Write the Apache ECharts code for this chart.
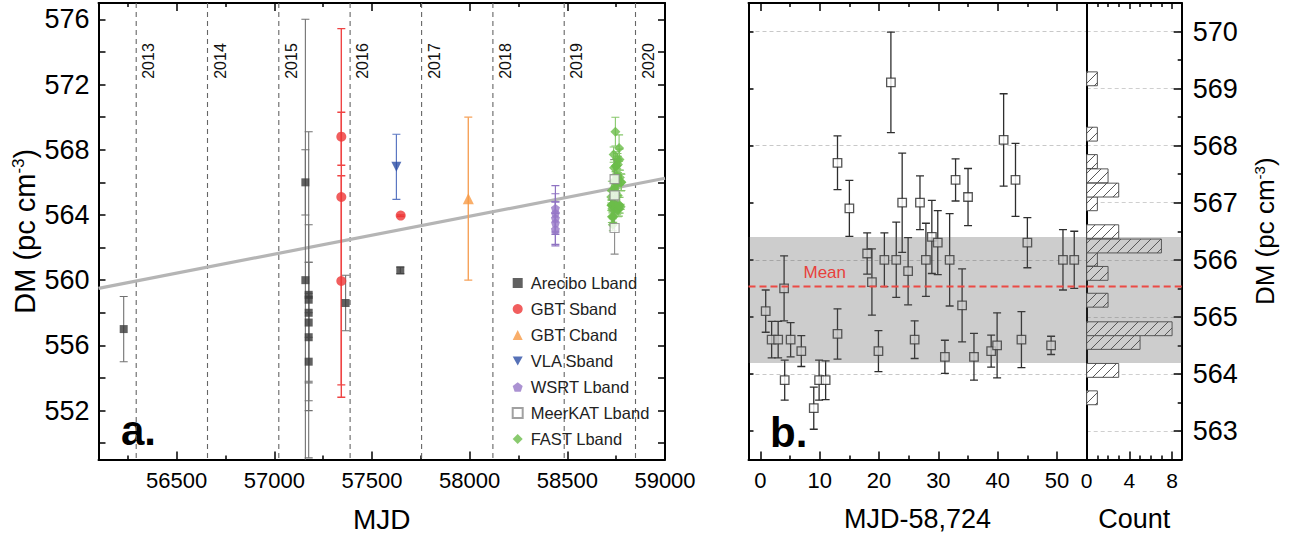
<!DOCTYPE html>
<html><head><meta charset="utf-8">
<script src="https://cdn.jsdelivr.net/npm/echarts@6/dist/echarts.min.js"></script>
<style>html,body{margin:0;padding:0;background:#fff}#c{width:1294px;height:539px}</style>
</head><body><div id="c"></div>
<script>
// ---------------- DATA ----------------
const yearMJD    = [56293, 56658, 57023, 57388, 57754, 58119, 58484, 58849];
const yearLabels = ['2013','2014','2015','2016','2017','2018','2019','2020'];

const trendMJD = [56100, 59000];
const trendDM  = [559.5, 566.25];

const areciboMJD = [56229, 57159, 57159, 57176, 57176, 57176, 57176, 57176, 57176, 57365, 57645];
const areciboDM  = [557.0, 566.0, 560.0, 559.1, 558.8, 558.0, 557.4, 556.5, 555.0, 558.6, 560.6];
const areciboErr = [2.0, 2.0, 16.0, 10.0, 2.3, 5.4, 3.7, 2.7, 3.0, 1.7, 0.2];

const gbtSMJD  = [57343, 57343, 57343, 57647];
const gbtSDM   = [568.8, 565.1, 559.95, 563.96];
const gbtSLow  = [567.05, 552.82, 553.58, 563.9];
const gbtSHigh = [570.3, 575.43, 566.4, 564.0];

const gbtCMJD = [57993];
const gbtCDM  = [565.0];
const gbtCErr = [5.0];

const vlaMJD = [57625];
const vlaDM  = [566.95];
const vlaErr = [2.0];

const wsrtMJD = [58439, 58439, 58439, 58439, 58439];
const wsrtDM  = [564.4, 564.1, 563.8, 563.5, 563.1];
const wsrtErr = [1.4, 1.2, 1.0, 1.3, 1.0];

const meerMJD = [58742, 58742, 58742];
const meerDM  = [566.2, 565.2, 563.2];
const meerErr = [1.2, 0.9, 1.6];

// FAST L-band (panel b), days after MJD 58724
const fastRefMJD = 58724;
const fastDay = [0.9, 1.9, 3.0, 4.0, 4.1, 5.1, 6.9, 9.0, 9.9, 11.0, 13.0, 13.0, 15.0, 18.0, 18.8, 19.9, 20.9, 22.0, 22.9, 23.9, 24.9, 26.0, 26.9, 27.9, 28.9, 29.9, 31.1, 31.9, 32.9, 34.0, 35.0, 36.0, 38.9, 39.9, 41.0, 43.0, 44.0, 45.0, 49.0, 51.0, 52.9];
const fastDM  = [565.10, 564.60, 564.60, 565.50, 563.89, 564.60, 564.40, 563.40, 563.89, 563.89, 567.70, 564.70, 566.90, 566.11, 565.61, 564.40, 566.00, 569.11, 566.00, 567.00, 565.80, 564.60, 567.00, 566.00, 566.40, 566.30, 564.30, 566.00, 567.40, 565.20, 567.10, 564.30, 564.40, 564.50, 568.10, 567.40, 564.60, 566.30, 564.50, 566.00, 566.00];
const fastErr = [0.37, 0.32, 0.32, 0.57, 0.35, 0.30, 0.27, 0.37, 0.35, 0.34, 0.47, 0.44, 0.49, 0.36, 0.58, 0.36, 0.47, 0.88, 0.66, 0.87, 0.59, 0.33, 0.47, 0.64, 0.64, 0.56, 0.29, 0.81, 0.37, 0.64, 0.50, 0.41, 0.28, 0.57, 0.81, 0.64, 0.49, 0.44, 0.16, 0.53, 0.50];

const meanDM   = 565.53;
const bandLow  = 564.19;
const bandHigh = 566.40;

// histogram (lower bin edges, counts)
const histBinWidth = 0.243;
const histLow    = [563.46, 563.70, 563.94, 564.19, 564.43, 564.67, 564.92, 565.17, 565.40, 565.64, 565.89, 566.12, 566.37, 566.61, 566.86, 567.10, 567.35, 567.60, 567.84, 568.08, 568.33, 568.57, 568.81, 569.05];
const histCounts = [1, 0, 3, 0, 5, 8, 0, 2, 0, 2, 1, 7, 3, 0, 1, 3, 2, 1, 0, 1, 0, 0, 0, 1];

// ---------------- CHART ----------------
const FONT = 'Liberation Sans, Arial, Helvetica, sans-serif';
const chart = echarts.init(document.getElementById('c'), null, {renderer: 'svg'});

const zip = (xs, ys) => xs.map((x, i) => [x, ys[i]]);

function errorBars(xs, lows, highs, color, width, capHalf, xi, yi, z) {
  return {
    type: 'custom', xAxisIndex: xi, yAxisIndex: yi, z: z, silent: true, clip: true,
    encode: {x: 0, y: [1, 2]},
    data: xs.map((x, i) => [x, lows[i], highs[i]]),
    renderItem: function (params, api) {
      const x = api.value(0);
      const lo = api.coord([x, api.value(1)]);
      const hi = api.coord([x, api.value(2)]);
      const st = {stroke: color, lineWidth: width, fill: null};
      return {type: 'group', children: [
        {type: 'line', shape: {x1: lo[0], y1: lo[1], x2: hi[0], y2: hi[1]}, style: st},
        {type: 'line', shape: {x1: lo[0] - capHalf, y1: lo[1], x2: lo[0] + capHalf, y2: lo[1]}, style: st},
        {type: 'line', shape: {x1: hi[0] - capHalf, y1: hi[1], x2: hi[0] + capHalf, y2: hi[1]}, style: st}
      ]};
    }
  };
}
const lowOf = (v, e) => v.map((d, i) => d - e[i]);
const highOf = (v, e) => v.map((d, i) => d + e[i]);

const fastMJD = fastDay.map(d => fastRefMJD + d);
const pentagon = 'path://M0,-1 L0.951,-0.309 L0.588,0.809 L-0.588,0.809 L-0.951,-0.309 Z';

function scatter(name, xs, ys, symbol, size, style, z) {
  return {type: 'scatter', name: name, xAxisIndex: 0, yAxisIndex: 0, z: z || 5, symbol: symbol, symbolSize: size,
          itemStyle: style, data: zip(xs, ys), silent: true};
}

const tickInside = (len, w) => ({show: true, inside: true, length: len, lineStyle: {color: '#000', width: w || 1.5}});
const minorInside = (n, len) => ({show: true, splitNumber: n, length: len, lineStyle: {color: '#000', width: 1.5}});
const blackLine = {show: true, onZero: false, lineStyle: {color: '#000', width: 2}};
const noLine = {show: false, onZero: false};
const plain = v => String(v);

const series = [];

// year lines (panel a)
series.push({
  type: 'custom', xAxisIndex: 0, yAxisIndex: 0, z: 1, silent: true,
  encode: {x: 0}, data: yearMJD.map(v => [v]),
  renderItem: function (params, api) {
    const cs = params.coordSys;
    const px = api.coord([api.value(0), 560])[0];
    return {type: 'group', children: [
      {type: 'line', shape: {x1: px, y1: cs.y, x2: px, y2: cs.y + cs.height},
       style: {stroke: '#666', lineWidth: 1.1, lineDash: [5, 4]}},
      {type: 'text', x: px + 12.5, y: cs.y + 58, rotation: Math.PI / 2,
       style: {text: yearLabels[params.dataIndex], fontSize: 16, fontFamily: FONT, fill: '#111',
               align: 'center', verticalAlign: 'middle'}}
    ]};
  }
});

// trend line
series.push({type: 'line', xAxisIndex: 0, yAxisIndex: 0, z: 2, silent: true, symbol: 'none',
  data: zip(trendMJD, trendDM), lineStyle: {color: '#b5b5b5', width: 3.2}});

// error bars panel a
series.push(errorBars(areciboMJD, lowOf(areciboDM, areciboErr), highOf(areciboDM, areciboErr), '#707070', 1.1, 4, 0, 0, 3));
series.push(errorBars(gbtSMJD, gbtSLow, gbtSHigh, '#ef4444', 1.4, 4, 0, 0, 3));
series.push(errorBars(gbtCMJD, lowOf(gbtCDM, gbtCErr), highOf(gbtCDM, gbtCErr), '#f6a25a', 1.4, 4, 0, 0, 3));
series.push(errorBars(vlaMJD, lowOf(vlaDM, vlaErr), highOf(vlaDM, vlaErr), '#5b77c2', 1.2, 4, 0, 0, 3));
series.push(errorBars(wsrtMJD, lowOf(wsrtDM, wsrtErr), highOf(wsrtDM, wsrtErr), '#8f73c2', 1.2, 4, 0, 0, 3));
series.push(errorBars(fastMJD, lowOf(fastDM, fastErr), highOf(fastDM, fastErr), '#86c76a', 1.1, 4, 0, 0, 3));
series.push(errorBars(meerMJD, lowOf(meerDM, meerErr), highOf(meerDM, meerErr), '#8a8a8a', 1.1, 4, 0, 0, 3));

// scatter panel a
series.push(scatter('Arecibo Lband', areciboMJD, areciboDM, 'rect', 8, {color: '#393939'}));
series.push(scatter('GBT Sband', gbtSMJD, gbtSDM, 'circle', 10, {color: '#ee3636'}));
series.push(scatter('GBT Cband', gbtCMJD, gbtCDM, 'triangle', 11, {color: '#f79a45'}));
series.push(scatter('VLA Sband', vlaMJD, vlaDM, 'path://M-1,-0.9 L1,-0.9 L0,0.9 Z', 10, {color: '#2c4ea5'}));
series.push(scatter('WSRT Lband', wsrtMJD, wsrtDM, pentagon, 9, {color: '#9677c7'}));
series.push(scatter('MeerKAT Lband', meerMJD, meerDM, 'rect', 9, {color: '#fff', borderColor: '#8a8a8a', borderWidth: 1.2}, 6));
series.push(scatter('FAST Lband', fastMJD, fastDM, 'diamond', 10, {color: '#6bbd4a'}));

// panel b error bars + points
series.push(errorBars(fastDay, lowOf(fastDM, fastErr), highOf(fastDM, fastErr), '#2e2e2e', 1.3, 4, 2, 2, 3));
series.push({type: 'scatter', xAxisIndex: 2, yAxisIndex: 2, z: 4, silent: true, symbol: 'rect', symbolSize: 8.5,
  itemStyle: {color: '#fff', borderColor: '#2a2a2a', borderWidth: 1.3}, data: zip(fastDay, fastDM)});

// band + mean line in panel b and histogram
function bandSeries(xi, yi, withLabel) {
  return {
    type: 'custom', xAxisIndex: xi, yAxisIndex: yi, z: 8, silent: true,
    encode: {y: [0, 1, 2]}, data: [[bandLow, bandHigh, meanDM]],
    renderItem: function (params, api) {
      const cs = params.coordSys;
      const yl = api.coord([0, api.value(0)])[1];
      const yh = api.coord([0, api.value(1)])[1];
      const ym = api.coord([0, api.value(2)])[1];
      const ch = [
        {type: 'rect', shape: {x: cs.x, y: yh, width: cs.width, height: yl - yh},
         style: {fill: 'rgba(90,90,90,0.30)'}},
        {type: 'line', shape: {x1: cs.x, y1: ym, x2: cs.x + cs.width, y2: ym},
         style: {stroke: '#ec4a45', lineWidth: 2, lineDash: [7, 4]}}
      ];
      if (withLabel) {
        ch.push({type: 'text', x: cs.x + 55, y: ym - 14,
          style: {text: 'Mean', fontSize: 17, fontFamily: FONT, fill: '#e8413c', align: 'left', verticalAlign: 'middle'}});
      }
      return {type: 'group', children: ch};
    }
  };
}

// histogram
series.push({
  type: 'custom', xAxisIndex: 4, yAxisIndex: 4, z: 3, silent: true, clip: true,
  encode: {x: 1, y: 0},
  data: histLow.map((lo, i) => [lo, histCounts[i]]),
  renderItem: function (params, api) {
    const lo = api.value(0), n = api.value(1);
    if (!n) return null;
    const p0 = api.coord([0, lo]);
    const p1 = api.coord([n, lo + histBinWidth]);
    const x0 = p0[0], x1 = p1[0], y0 = p1[1], y1 = p0[1];
    const ch = [{type: 'rect', shape: {x: x0, y: y0, width: x1 - x0, height: y1 - y0},
                 style: {fill: '#fff', stroke: '#555', lineWidth: 1}}];
    const s = 10;
    for (let k = Math.ceil((x0 + y0) / s); k <= Math.floor((x1 + y1) / s); k++) {
      const c = k * s;
      const xa = Math.max(x0, c - y1), xb = Math.min(x1, c - y0);
      if (xb > xa + 0.5) ch.push({type: 'line', shape: {x1: xa, y1: c - xa, x2: xb, y2: c - xb},
                                  style: {stroke: '#444', lineWidth: 0.9}});
    }
    return {type: 'group', children: ch};
  }
});

series.push(bandSeries(2, 2, true));
series.push(bandSeries(4, 5, false));

const dmName = '{t|DM (pc cm}{s|-3}{t|)}';

const option = {
  animation: false,
  backgroundColor: '#fff',
  textStyle: {fontFamily: FONT, color: '#000'},
  grid: [
    {left: 98.5, top: 3, width: 566.5, height: 456.5, outerBoundsMode: 'none'},
    {left: 748.5, top: 3, width: 338.2, height: 456.5, outerBoundsMode: 'none'},
    {left: 1086.7, top: 3, width: 95, height: 456.5, outerBoundsMode: 'none'}
  ],
  legend: {
    orient: 'vertical', left: 506.7, top: 269.5, itemWidth: 10, itemHeight: 10, itemGap: 9,
    textStyle: {fontSize: 16.5, color: '#222', fontFamily: FONT, padding: [0, 0, 0, 3]},
    data: ['Arecibo Lband', 'GBT Sband', 'GBT Cband', 'VLA Sband', 'WSRT Lband', 'MeerKAT Lband', 'FAST Lband'],
    selectedMode: false
  },
  xAxis: [
    {gridIndex: 0, type: 'value', min: 56100, max: 59000, splitNumber: 6, position: 'bottom',
     axisLine: blackLine, axisTick: tickInside(8), minorTick: minorInside(2, 4),
     splitLine: {show: false}, axisLabel: {fontSize: 22, margin: 10, showMinLabel: false, color: '#000', formatter: plain},
     name: 'MJD', nameLocation: 'middle', nameGap: 46, nameTextStyle: {fontSize: 28}},
    {gridIndex: 0, type: 'value', min: 56100, max: 59000, splitNumber: 6, position: 'top',
     axisLine: blackLine, axisTick: tickInside(8), minorTick: minorInside(2, 4),
     splitLine: {show: false}, axisLabel: {show: false}},
    {gridIndex: 1, type: 'value', min: -2, max: 55, splitNumber: 6, position: 'bottom',
     axisLine: blackLine, axisTick: tickInside(8), minorTick: minorInside(2, 4),
     splitLine: {show: false}, axisLabel: {fontSize: 22, margin: 10, showMinLabel: false, showMaxLabel: false, color: '#000', formatter: plain},
     name: 'MJD-58,724', nameLocation: 'middle', nameGap: 46, nameTextStyle: {fontSize: 27}},
    {gridIndex: 1, type: 'value', min: -2, max: 55, splitNumber: 6, position: 'top',
     axisLine: blackLine, axisTick: tickInside(8), minorTick: minorInside(2, 4),
     splitLine: {show: false}, axisLabel: {show: false}},
    {gridIndex: 2, type: 'value', min: 0, max: 8.9, interval: 4, position: 'bottom',
     axisLine: blackLine, axisTick: tickInside(8), minorTick: minorInside(4, 4),
     splitLine: {show: false}, axisLabel: {fontSize: 21, margin: 10, showMaxLabel: false, color: '#000', formatter: plain},
     name: 'Count', nameLocation: 'middle', nameGap: 46, nameTextStyle: {fontSize: 27}},
    {gridIndex: 2, type: 'value', min: 0, max: 8.9, interval: 4, position: 'top',
     axisLine: blackLine, axisTick: tickInside(6), minorTick: minorInside(4, 4),
     splitLine: {show: false}, axisLabel: {show: false}}
  ],
  yAxis: [
    {gridIndex: 0, type: 'value', min: 549, max: 577, splitNumber: 14, position: 'left',
     axisLine: blackLine, axisTick: tickInside(7), splitLine: {show: false},
     axisLabel: {fontSize: 27, margin: 9, color: '#000', formatter: v => (v % 4 === 0 ? String(v) : '')},
     name: dmName, nameLocation: 'middle', nameRotate: 90, nameGap: 58,
     nameTextStyle: {rich: {t: {fontSize: 29, fontFamily: FONT}, s: {fontSize: 17, fontFamily: FONT, verticalAlign: 'top', padding: [0, 0, 14, 0]}}}},
    {gridIndex: 0, type: 'value', min: 549, max: 577, splitNumber: 14, position: 'right',
     axisLine: blackLine, axisTick: tickInside(7), splitLine: {show: false}, axisLabel: {show: false}},
    // panel b: ticks every 1 DM
    {gridIndex: 1, type: 'value', min: 562.5, max: 570.5, splitNumber: 8, position: 'left',
     axisLine: blackLine, axisTick: tickInside(5), splitLine: {show: false}, axisLabel: {show: false}},
    // panel b: dashed grid every 2 DM (no line/ticks)
    {gridIndex: 1, type: 'value', min: 562.5, max: 570.5, splitNumber: 4, position: 'left',
     axisLine: noLine, axisTick: {show: false}, axisLabel: {show: false},
     splitLine: {show: true, lineStyle: {color: '#c8c8c8', width: 1, type: [4, 3]}}},
    // histogram left border
    {gridIndex: 2, type: 'value', min: 562.5, max: 570.5, splitNumber: 8, position: 'left',
     axisLine: blackLine, axisTick: {show: false}, splitLine: {show: false}, axisLabel: {show: false}},
    // histogram right axis with labels
    {gridIndex: 2, type: 'value', min: 562.5, max: 570.5, splitNumber: 8, position: 'right',
     axisLine: blackLine, axisTick: tickInside(8), minorTick: minorInside(2, 4),
     splitLine: {show: true, lineStyle: {color: '#cfcfcf', width: 1, type: [4, 3]}},
     axisLabel: {fontSize: 27, margin: 11, color: '#000', showMinLabel: false, showMaxLabel: false},
     name: dmName, nameLocation: 'middle', nameRotate: 90, nameGap: 70,
     nameTextStyle: {rich: {t: {fontSize: 26, fontFamily: FONT}, s: {fontSize: 15, fontFamily: FONT, verticalAlign: 'top', padding: [0, 0, 12, 0]}}}}
  ],
  graphic: [
    {type: 'text', x: 121, y: 451, style: {text: 'a.', fontSize: 42, fontWeight: 'bold', fontFamily: FONT, fill: '#000', verticalAlign: 'bottom'}},
    {type: 'text', x: 770, y: 453, style: {text: 'b.', fontSize: 42, fontWeight: 'bold', fontFamily: FONT, fill: '#000', verticalAlign: 'bottom'}}
  ],
  series: series
};
chart.setOption(option);
</script>
</body></html>
